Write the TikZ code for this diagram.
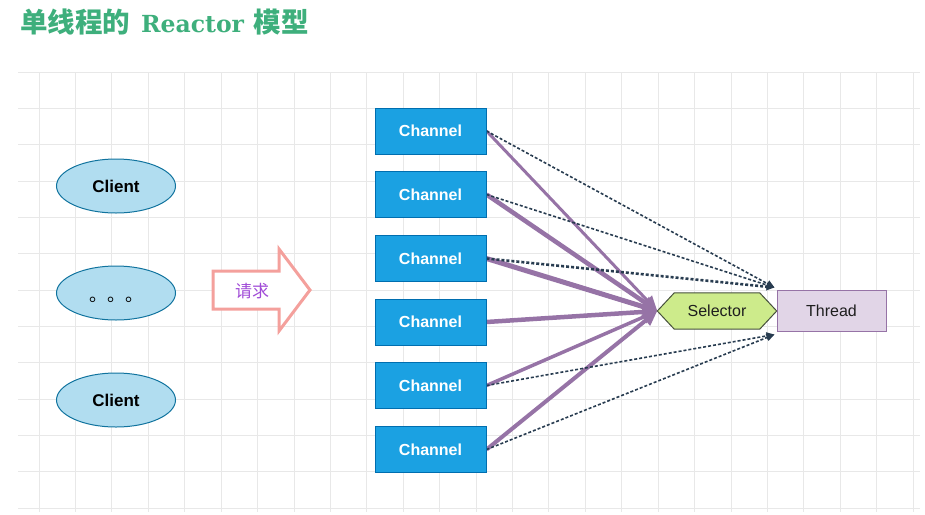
\documentclass[tikz,border=0pt]{standalone}
\usepackage{fontspec}
\setmainfont{Liberation Sans}
\newfontfamily\cjk{Noto Sans CJK SC}
\newfontfamily\titleserif{DejaVu Serif}
\usetikzlibrary{shapes.geometric,arrows.meta,calc}
\pgfdeclarelayer{gridlayer}
\pgfdeclarelayer{edgelayer}
\pgfdeclarelayer{shapelayer}
\pgfsetlayers{gridlayer,edgelayer,shapelayer,main}
\definecolor{titlegreen}{RGB}{62,175,124}
\definecolor{gridc}{RGB}{232,232,232}
\definecolor{clientfill}{RGB}{177,221,240}
\definecolor{clientline}{RGB}{16,115,158}
\definecolor{chanfill}{RGB}{27,161,226}
\definecolor{chanline}{RGB}{0,110,175}
\definecolor{selfill}{RGB}{205,235,139}
\definecolor{selline}{RGB}{70,80,60}
\definecolor{thrfill}{RGB}{225,213,231}
\definecolor{thrline}{RGB}{150,115,166}
\definecolor{purp}{RGB}{150,115,166}
\definecolor{dotc}{RGB}{40,60,80}
\definecolor{reqline}{RGB}{244,160,156}
\definecolor{reqtext}{RGB}{160,75,215}
\begin{document}
\begin{tikzpicture}[x=1pt,y=-1pt,
  gridline/.style={draw=gridc, line width=0.8pt},
  client/.style={ellipse, draw=clientline, fill=clientfill, line width=1pt,
    minimum width=119pt, minimum height=54pt, inner sep=0pt,
    font=\fontsize{17}{20}\selectfont\bfseries},
  chan/.style={rectangle, draw=chanline, fill=chanfill, line width=1pt,
    minimum width=111pt, minimum height=46pt, inner sep=0pt, text=white,
    font=\fontsize{16}{19}\selectfont\bfseries},
  selbox/.style={rectangle, minimum width=119pt, minimum height=36pt, inner sep=0pt,
    text={rgb,255:red,30;green,30;blue,30}, font=\fontsize{16}{19}\selectfont},
  thrbox/.style={rectangle, draw=thrline, fill=thrfill, line width=1pt,
    minimum width=109pt, minimum height=41pt, inner sep=0pt,
    text={rgb,255:red,30;green,30;blue,30}, font=\fontsize{16}{19}\selectfont},
  purparrow/.style={draw=purp, -{Triangle[length=15pt,width=13pt]}},
  dotarrow/.style={draw=dotc, line width=1.6pt, dash pattern=on 3pt off 2pt,
    -{Triangle[length=8pt,width=7pt]}}
]
\useasboundingbox (0,0) rectangle (925,514);

% grid
\begin{pgfonlayer}{gridlayer}
\foreach \i in {0,...,24} \draw[gridline] ({39+36.42*\i},72) -- ({39+36.42*\i},512);
\foreach \j in {0,...,12} \draw[gridline] (18,{72+36.33*\j}) -- (920,{72+36.33*\j});
\end{pgfonlayer}

% title
\node[anchor=base west, inner sep=0pt, text=titlegreen,
  font=\fontsize{27.5}{30}\selectfont] (title) at (20,32)
  {{\cjk\bfseries 单线程的}\hspace{0.4em}{\titleserif\bfseries\fontsize{23.5}{30}\selectfont Reactor}\hspace{0.35em}{\cjk\bfseries 模型}};

% clients
\node[client] (c1) at (116,186) {Client};
\node[client] (c2) at (116,293) {};
\node[font=\fontsize{18}{20}\selectfont\cjk, inner sep=0pt] (dots) at (116,300) {。。。};
\node[client] (c3) at (116,400) {Client};

% request arrow
\begin{pgfonlayer}{shapelayer}
\filldraw[fill=white, draw=reqline, line width=3pt, line join=miter]
  (213,271) -- (279,271) -- (279,249) -- (310,290) -- (279,331) -- (279,309) -- (213,309) -- cycle;
\end{pgfonlayer}
\node[text=reqtext, font=\fontsize{17}{20}\selectfont\cjk] (req) at (252,291) {请求};

% channels
\node[chan] (ch1) at (430.5,131) {Channel};
\node[chan] (ch2) at (430.5,194.5) {Channel};
\node[chan] (ch3) at (430.5,258.5) {Channel};
\node[chan] (ch4) at (430.5,322) {Channel};
\node[chan] (ch5) at (430.5,385.5) {Channel};
\node[chan] (ch6) at (430.5,449.5) {Channel};

% selector and thread
\node[selbox] (sel) at (717,311) {Selector};
\node[thrbox] (thr) at (831.5,310.5) {Thread};
\begin{pgfonlayer}{shapelayer}
\filldraw[fill=selfill, draw=selline, line width=1pt, line join=miter]
  (sel.west) -- ($(sel.north west)+(17,0)$) -- ($(sel.north east)+(-17,0)$) -- (sel.east)
  -- ($(sel.south east)+(-17,0)$) -- ($(sel.south west)+(17,0)$) -- cycle;
\end{pgfonlayer}

\coordinate (tin1) at ($(thr.north west)+(-2,-2)$);
\coordinate (tin2) at ($(thr.south west)+(-2,3)$);

% connectors
\begin{pgfonlayer}{edgelayer}
\draw[purparrow, line width=3pt] (ch1.east) -- (sel.west);
\draw[purparrow, line width=4.5pt] (ch2.east) -- (sel.west);
\draw[purparrow, line width=5pt] (ch3.east) -- (sel.west);
\draw[purparrow, line width=4.5pt] (ch4.east) -- (sel.west);
\draw[purparrow, line width=3.5pt] (ch5.east) -- (sel.west);
\draw[purparrow, line width=4pt] (ch6.east) -- (sel.west);
\draw[dotarrow] (ch1.east) -- (tin1);
\draw[dotarrow] (ch2.east) -- (tin1);
\draw[dotarrow, line width=2.6pt] (ch3.east) -- (tin1);
\draw[dotarrow] (ch5.east) -- (tin2);
\draw[dotarrow] (ch6.east) -- (tin2);
\end{pgfonlayer}
\end{tikzpicture}
\end{document}
